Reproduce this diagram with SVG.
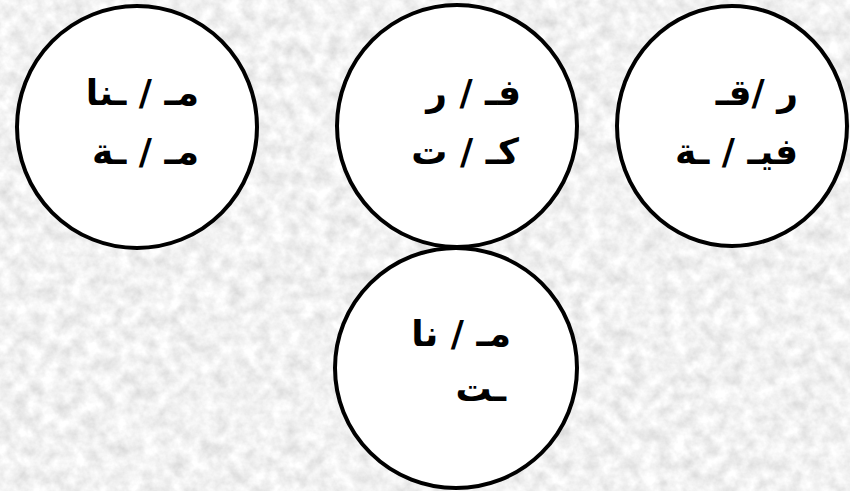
<svg xmlns="http://www.w3.org/2000/svg" width="850" height="491" viewBox="0 0 850 491">
  <defs>
    <filter id="granite" x="0" y="0" width="100%" height="100%">
      <feTurbulence type="fractalNoise" baseFrequency="0.07" numOctaves="4" seed="7" result="n"/>
      <feColorMatrix in="n" type="matrix" values="0.45 0 0 0 0.66  0.45 0 0 0 0.66  0.45 0 0 0 0.66  0 0 0 0 1"/>
    </filter>
  </defs>
  <style>
    .node ellipse { fill: #ffffff; stroke: #000000; stroke-width: 4; }
    .node text { font-family: "DejaVu Sans", sans-serif; font-weight: bold; font-size: 36px; fill: #000000; direction: rtl; unicode-bidi: embed; text-anchor: start; }
  </style>
  <rect x="0" y="0" width="850" height="491" fill="#e0e0e0"/>
  <rect x="0" y="0" width="850" height="491" filter="url(#granite)"/>
  <g id="connectors"></g>
  <g id="node-left" class="node">
    <ellipse cx="137" cy="127" rx="120" ry="121"/>
    <text x="199" y="105">مـ / ـنا</text>
    <text x="199" y="164">مـ / ـة</text>
  </g>
  <g id="node-middle" class="node">
    <ellipse cx="457" cy="126" rx="120" ry="121"/>
    <text x="521" y="105">فـ / ر</text>
    <text x="519" y="164">كـ / ت</text>
  </g>
  <g id="node-right" class="node">
    <ellipse cx="732" cy="126" rx="115" ry="120"/>
    <text x="798" y="105">ر /قـ</text>
    <text x="798" y="164">فيـ / ـة</text>
  </g>
  <g id="node-bottom" class="node">
    <ellipse cx="456" cy="368" rx="121" ry="120"/>
    <text x="511" y="346">مـ / نا</text>
    <text x="506" y="401">ـت</text>
  </g>
</svg>
